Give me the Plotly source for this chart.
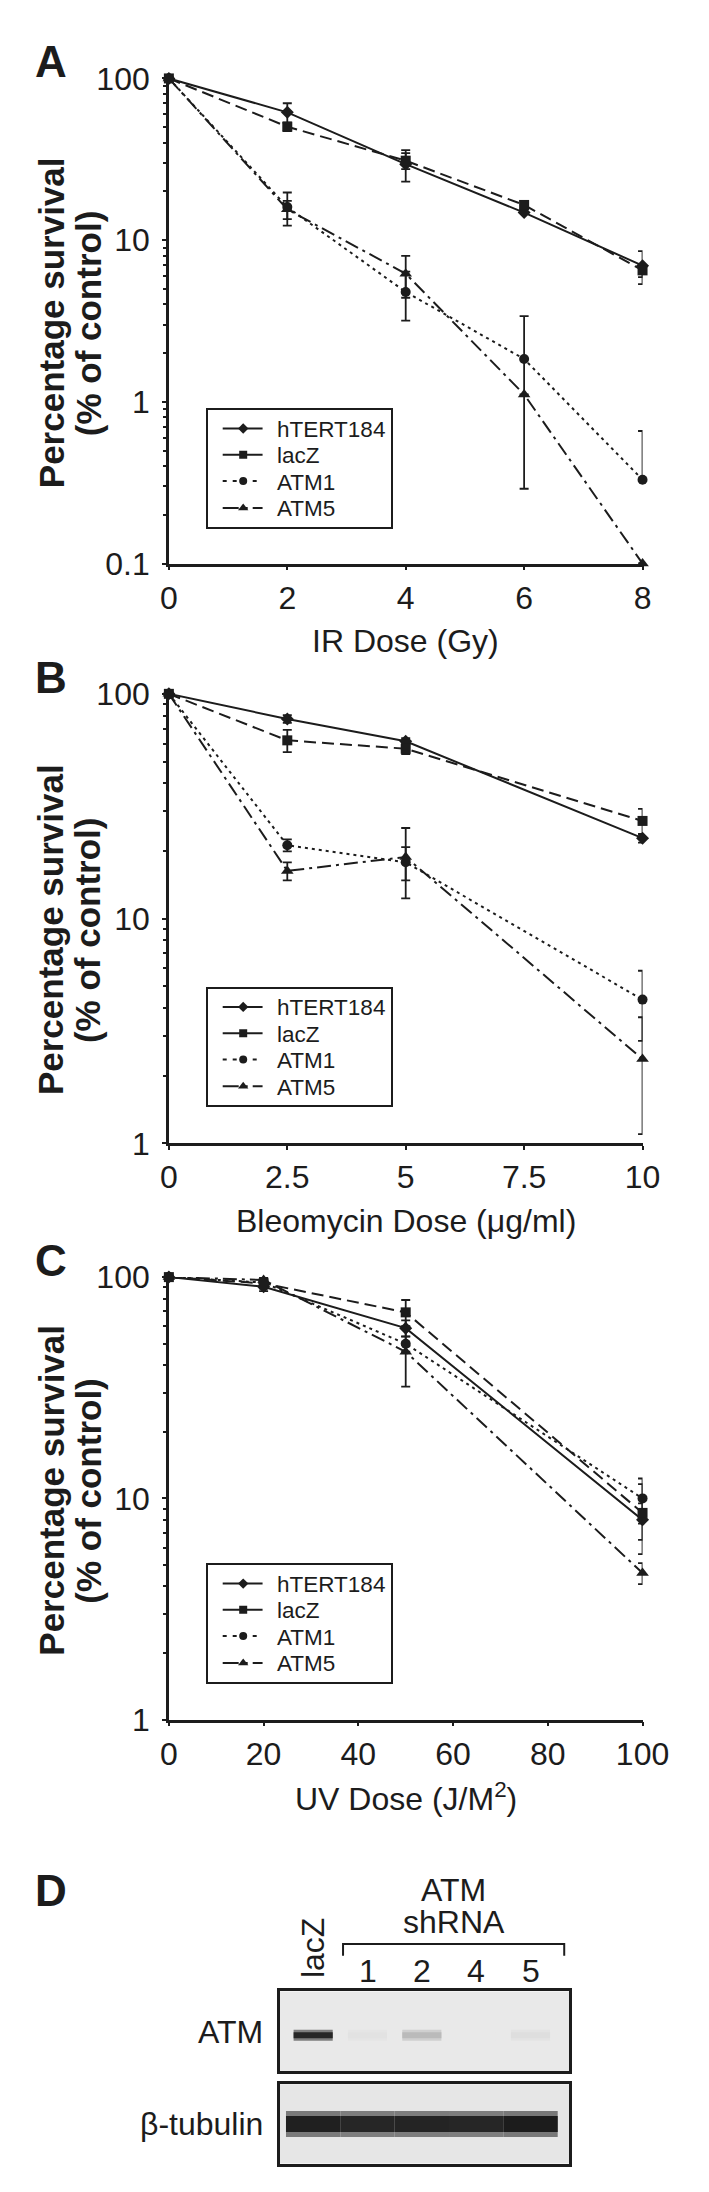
#!/usr/bin/env python3

"""
Clonogenic survival of hTERT184 cells after ATM knock-down (IR, bleomycin, UV)
plus the western blot panel, redrawn with plotly.
"""

import plotly.graph_objects as go

W, H = 709, 2192
FONT = "Liberation Sans, Arial, Helvetica, sans-serif"
INK = "#1c1c1c"

SERIES = ["hTERT184", "lacZ", "ATM1", "ATM5"]

# panel A : IR
ir_dose = [0, 2, 4, 6, 8]
ir_htert184 = [100, 61.7, 29.5, 14.8, 6.95]
ir_htert184_sd = [0, 8.5, 6.5, 0, 1.6]
ir_lacz = [100, 50.3, 31.0, 16.5, 6.5]
ir_lacz_sd = [0, 3.0, 3.5, 1.0, 0.6]
ir_atm1 = [100, 16.0, 4.78, 1.84, 0.33]
ir_atm1_sd = [0, 3.7, 1.6, 1.55, 0.33]
ir_atm5 = [100, 15.5, 6.2, 1.11, 0.1]
ir_atm5_sd = [0, 2.0, 1.8, 0, 0]

# panel B : bleomycin
bleo_dose = [0, 2.5, 5, 10]
bleo_htert184 = [100, 77.3, 61.5, 22.8]
bleo_htert184_sd = [0, 3.0, 2.0, 1.0]
bleo_lacz = [100, 62.1, 57.0, 27.2]
bleo_lacz_sd = [0, 7.0, 3.0, 3.6]
bleo_atm1 = [100, 21.2, 17.8, 4.36]
bleo_atm1_sd = [0, 1.3, 3.0, 1.5]
bleo_atm5 = [100, 16.3, 18.8, 2.37]
bleo_atm5_sd = [0, 1.5, 6.5, 1.27]

# panel C : UV
uv_dose = [0, 20, 50, 100]
uv_htert184 = [100, 90.5, 58.8, 8.0]
uv_htert184_sd = [0, 4.0, 5.0, 1.5]
uv_lacz = [100, 93.7, 69.3, 8.6]
uv_lacz_sd = [0, 5.0, 9.5, 3.0]
uv_atm1 = [100, 94.5, 50.0, 10.0]
uv_atm1_sd = [0, 5.0, 4.0, 2.3]
uv_atm5 = [100, 97.0, 46.0, 4.6]
uv_atm5_sd = [0, 6.0, 14.0, 0.5]

# panel D : western blot, band intensity per lane (0 = none, 1 = saturated)
lane_labels = ["lacZ", "1", "2", "4", "5"]
atm_band = [0.92, 0.03, 0.22, 0.0, 0.05]
tubulin_band = [0.95, 0.92, 0.93, 0.92, 0.97]

STYLE = {
    "hTERT184": {"symbol": "diamond", "size": 10, "dash": "solid", "key": "solid"},
    "lacZ": {"symbol": "square", "size": 10, "dash": "12px,6px", "key": "solid"},
    "ATM1": {"symbol": "circle", "size": 10, "dash": "3px,4px", "key": "4px,6px"},
    "ATM5": {"symbol": "triangle-up", "size": 11, "dash": "14px,5px,3px,5px",
             "key": "16px,5px,4px,5px"},
}
DRAW_ORDER = ["ATM5", "ATM1", "hTERT184", "lacZ"]

# legend box size in px and the key layout inside it
LEG_W, LEG_H = 192.6, 118.6
LEG_ROWS = [18.6, 45.3, 72.0, 99.3]


def px_x(px):
    return px / W


def px_y(py):
    return 1 - py / H


def draw_panel(fig, n, dose, values, sds):
    """Survival curves with error bars for one panel (n = 1, 2, 3)."""
    suffix = "" if n == 1 else str(n)
    for name in DRAW_ORDER:
        v = values[name]
        e = sds[name]
        # like excel: a bar that would fall below zero on a log axis is dropped
        minus = [s if s < y else 0 for s, y in zip(e, v)]
        st = STYLE[name]
        fig.add_trace(go.Scatter(
            x=dose, y=v, name=name,
            mode="lines+markers",
            line=dict(color=INK, width=2, dash=st["dash"]),
            marker=dict(symbol=st["symbol"], size=st["size"], color=INK,
                        line=dict(width=0)),
            error_y=dict(type="data", symmetric=False, array=e, arrayminus=minus,
                         color=INK, thickness=1.8, width=4.5),
            xaxis="x" + suffix, yaxis="y" + suffix,
            cliponaxis=False, hoverinfo="skip", showlegend=False,
        ))


def draw_legend_keys(fig, n):
    """Boxed legend drawn in its own little axis (n = 6, 7, 8)."""
    for name, ry in zip(SERIES, LEG_ROWS):
        st = STYLE[name]
        fig.add_trace(go.Scatter(
            x=[15, 57], y=[ry, ry], mode="lines",
            line=dict(color=INK, width=2, dash=st["key"]),
            xaxis=f"x{n}", yaxis=f"y{n}", showlegend=False, hoverinfo="skip",
        ))
        fig.add_trace(go.Scatter(
            x=[36.6], y=[ry], mode="markers",
            marker=dict(symbol=st["symbol"], size=st["size"] - 2, color=INK),
            xaxis=f"x{n}", yaxis=f"y{n}", showlegend=False, hoverinfo="skip",
        ))


def draw_blot(fig):
    """Western blot bands as thick line segments per lane."""
    for vals, axis, ypos, widths, hw in [
            (atm_band, "4", 0.45, (11, 6), 0.36),
            (tubulin_band, "5", 0.50, (26, 16), 0.5)]:
        for i, a in enumerate(vals):
            for k, w in enumerate(widths):
                f = a * (0.55 if k == 0 else 1.0)
                g = int(233 - f * (233 - 22))
                fig.add_trace(go.Scatter(
                    x=[i - hw, i + hw], y=[ypos, ypos], mode="lines",
                    line=dict(color=f"rgb({g},{g},{g})", width=w),
                    xaxis="x" + axis, yaxis="y" + axis,
                    showlegend=False, hoverinfo="skip",
                ))


def main():
    fig = go.Figure()

    draw_panel(fig, 1, ir_dose,
               {"hTERT184": ir_htert184, "lacZ": ir_lacz, "ATM1": ir_atm1, "ATM5": ir_atm5},
               {"hTERT184": ir_htert184_sd, "lacZ": ir_lacz_sd, "ATM1": ir_atm1_sd, "ATM5": ir_atm5_sd})
    draw_panel(fig, 2, bleo_dose,
               {"hTERT184": bleo_htert184, "lacZ": bleo_lacz, "ATM1": bleo_atm1, "ATM5": bleo_atm5},
               {"hTERT184": bleo_htert184_sd, "lacZ": bleo_lacz_sd, "ATM1": bleo_atm1_sd, "ATM5": bleo_atm5_sd})
    draw_panel(fig, 3, uv_dose,
               {"hTERT184": uv_htert184, "lacZ": uv_lacz, "ATM1": uv_atm1, "ATM5": uv_atm5},
               {"hTERT184": uv_htert184_sd, "lacZ": uv_lacz_sd, "ATM1": uv_atm1_sd, "ATM5": uv_atm5_sd})
    draw_blot(fig)
    for n in (6, 7, 8):
        draw_legend_keys(fig, n)

    tick_font = dict(family=FONT, size=32, color=INK)

    # pixel boxes: left, right, top, bottom, x range, x ticks, log y min,
    # x title, y-title centre, legend top, panel letter
    panels = [
        (160, 659, 53.3, 546.5, [0, 8], [0, 2, 4, 6, 8], ["0", "2", "4", "6", "8"], -1,
         "IR Dose (Gy)", 302, 390.7, "A"),
        (160, 659, 679, 1136, [0, 10], [0, 2.5, 5, 7.5, 10], ["0", "2.5", "5", "7.5", "10"], 0,
         "Bleomycin Dose (μg/ml)", 919, 978.7, "B"),
        (160, 659, 1272, 1722, [0, 100], [0, 20, 40, 60, 80, 100],
         ["0", "20", "40", "60", "80", "100"], 0,
         "UV Dose (J/M<sup>2</sup>)", 1489, 1565, "C"),
    ]

    layout = {}
    annotations = []
    for n, (l, r, t, b, xr, xt, xtt, ylo, xtitle, ymid, legtop, letter) in enumerate(panels, 1):
        s = "" if n == 1 else str(n)
        yvals = [10 ** k for k in range(ylo, 3)]
        ytext = ["0.1" if v < 1 else str(int(v)) for v in yvals]
        minor_vals = [m * 10 ** k for k in range(ylo, 2) for m in range(2, 10)]
        layout["xaxis" + s] = dict(
            domain=[px_x(l), px_x(r)], range=xr, anchor="y" + s,
            showline=True, linewidth=2.5, linecolor=INK,
            ticks="outside", ticklen=4, tickwidth=2, tickcolor=INK,
            tickvals=xt, ticktext=xtt, tickfont=tick_font, ticklabelstandoff=0,
            showgrid=False, zeroline=False,
        )
        layout["yaxis" + s] = dict(
            domain=[px_y(b), px_y(t)], type="log", range=[ylo, 2], anchor="x" + s,
            showline=True, linewidth=2.5, linecolor=INK,
            ticks="outside", ticklen=4, tickwidth=2, tickcolor=INK,
            tickvals=yvals, ticktext=ytext, tickfont=tick_font, ticklabelstandoff=6,
            minor=dict(ticks="outside", ticklen=3, tickwidth=1.5, tickcolor=INK,
                       tickvals=minor_vals, showgrid=False),
            showgrid=False, zeroline=False,
        )

        # boxed legend
        g = str(n + 5)
        layout["xaxis" + g] = dict(
            domain=[px_x(201.7), px_x(201.7 + LEG_W)], range=[0, LEG_W], anchor="y" + g,
            showline=True, mirror=True, linewidth=2, linecolor=INK,
            showticklabels=False, ticks="", showgrid=False, zeroline=False,
        )
        layout["yaxis" + g] = dict(
            domain=[px_y(legtop + LEG_H), px_y(legtop)], range=[LEG_H, 0], anchor="x" + g,
            showline=True, mirror=True, linewidth=2, linecolor=INK,
            showticklabels=False, ticks="", showgrid=False, zeroline=False,
        )
        for name, ry in zip(SERIES, LEG_ROWS):
            annotations.append(dict(text=name, x=70.6, y=ry + 1, xref="x" + g, yref="y" + g,
                                    xanchor="left",
                                    font=dict(family=FONT, size=22.5, color=INK)))

        annotations += [
            dict(text=xtitle, x=px_x((l + r) / 2), y=px_y(b + 79),
                 font=dict(family=FONT, size=32, color=INK)),
            dict(text="<b>Percentage survival</b>", x=px_x(36), y=px_y(ymid),
                 textangle=-90, font=dict(family=FONT, size=35, color=INK)),
            dict(text="<b>(% of control)</b>", x=px_x(75), y=px_y(ymid),
                 textangle=-90, font=dict(family=FONT, size=35, color=INK)),
            dict(text=f"<b>{letter}</b>", x=px_x(36), y=px_y(t - 17),
                 font=dict(family=FONT, size=44, color=INK)),
        ]

    # blot boxes
    lane_px0, lane_step = 312, 57.25
    blot_x = [(277 - lane_px0) / lane_step, (582 - lane_px0) / lane_step]
    for s, top, bot in [("4", 1998.3, 2079.3), ("5", 2092.7, 2173.3)]:
        layout["xaxis" + s] = dict(
            domain=[px_x(277), px_x(582)], range=blot_x, anchor="y" + s,
            showline=True, mirror=True, linewidth=3, linecolor=INK,
            showticklabels=False, ticks="", showgrid=False, zeroline=False,
        )
        layout["yaxis" + s] = dict(
            domain=[px_y(bot), px_y(top)], range=[0, 1], anchor="x" + s,
            showline=True, mirror=True, linewidth=3, linecolor=INK,
            showticklabels=False, ticks="", showgrid=False, zeroline=False,
        )

    shapes = [
        dict(type="rect", xref="x4 domain", yref="y4 domain", x0=0, x1=1, y0=0, y1=1,
             fillcolor="#e9e9e9", line=dict(width=0), layer="below"),
        dict(type="rect", xref="x5 domain", yref="y5 domain", x0=0, x1=1, y0=0, y1=1,
             fillcolor="#e6e6e6", line=dict(width=0), layer="below"),
        # bracket over the shRNA lanes
        dict(type="path", xref="x4", yref="paper",
             path=f"M 0.55,{px_y(1962)} L 0.55,{px_y(1950)} L 4.62,{px_y(1950)} L 4.62,{px_y(1962)}",
             line=dict(color=INK, width=2)),
    ]

    blot_font = dict(family=FONT, size=32, color=INK)
    for i, lab in enumerate(lane_labels):
        if i == 0:
            annotations.append(dict(text=lab, x=i, xref="x4", y=px_y(1954),
                                    textangle=-90, font=blot_font))
        else:
            annotations.append(dict(text=lab, x=i, xref="x4", y=px_y(1977),
                                    font=blot_font))
    annotations += [
        dict(text="ATM", x=2.585, xref="x4", y=px_y(1895), font=blot_font),
        dict(text="shRNA", x=2.585, xref="x4", y=px_y(1928), font=blot_font),
        dict(text="ATM", x=px_x(261), y=px_y(2040), xanchor="right", font=blot_font),
        dict(text="β-tubulin", x=px_x(261), y=px_y(2133), xanchor="right", font=blot_font),
        dict(text="<b>D</b>", x=px_x(36), y=px_y(1896),
             font=dict(family=FONT, size=44, color=INK)),
    ]
    for a in annotations:
        a.setdefault("xref", "paper")
        a.setdefault("yref", "paper")
        a.setdefault("xanchor", "center")
        a.setdefault("yanchor", "middle")
        a["showarrow"] = False

    fig.update_layout(
        width=W, height=H,
        margin=dict(l=0, r=0, t=0, b=0),
        paper_bgcolor="white", plot_bgcolor="white",
        font=dict(family=FONT, color=INK),
        annotations=annotations, shapes=shapes,
        hovermode=False, showlegend=False,
        **layout,
    )

    fig.write_html("out.html")


if __name__ == "__main__":
    main()
